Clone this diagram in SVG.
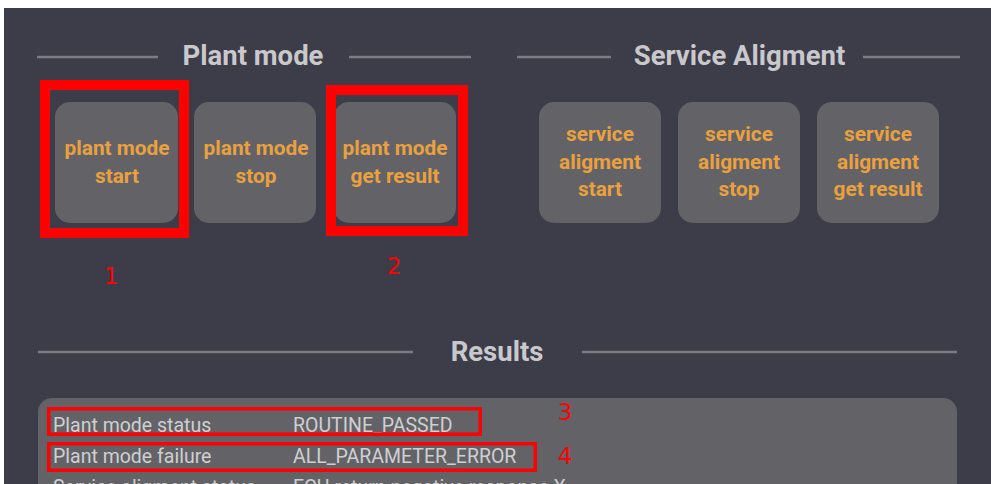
<svg xmlns="http://www.w3.org/2000/svg" width="991" height="484" viewBox="0 0 991 484">
<style>
.bg{fill:#3d3c49}
.btn{fill:#636367}
.bt{font-family:Roboto,"Liberation Sans",sans-serif;font-weight:bold;font-size:20.8px;fill:#e9a140;text-anchor:middle}
.hd{font-family:Roboto,"Liberation Sans",sans-serif;font-weight:bold;font-size:27.5px;fill:#c9c9cc;text-anchor:middle}
.rule{stroke:#7d7c83;stroke-width:2.5}
.tx{font-family:Roboto,"Liberation Sans",sans-serif;font-size:19.5px;fill:#cfcfd2}
.hl{fill:none;stroke:#ff0000}
.num{font-family:"DejaVu Sans",sans-serif;font-size:23px;fill:#ff0000;text-anchor:middle}
</style>
<rect width="991" height="484" fill="#ffffff"/>
<rect class="bg" x="4" y="8" width="987" height="476"/>
<g id="headings">
<line class="rule" x1="37" y1="57" x2="158" y2="57"/>
<line class="rule" x1="349" y1="57" x2="471" y2="57"/>
<text class="hd" x="253" y="65">Plant mode</text>
<line class="rule" x1="517" y1="57" x2="611" y2="57"/>
<line class="rule" x1="863" y1="57" x2="960" y2="57"/>
<text class="hd" x="739.5" y="65">Service Aligment</text>
<line class="rule" x1="38" y1="352" x2="413" y2="352"/>
<line class="rule" x1="582" y1="352" x2="957" y2="352"/>
<text class="hd" x="497" y="361">Results</text>
</g>
<g id="btn-plant-start"><rect class="btn" x="55" y="102" width="123" height="121" rx="15"/><text class="bt" x="117" y="155">plant mode</text><text class="bt" x="117" y="183">start</text></g>
<g id="btn-plant-stop"><rect class="btn" x="194" y="102" width="122" height="121" rx="15"/><text class="bt" x="256" y="155">plant mode</text><text class="bt" x="256" y="183">stop</text></g>
<g id="btn-plant-result"><rect class="btn" x="334" y="102" width="122" height="121" rx="15"/><text class="bt" x="395" y="155">plant mode</text><text class="bt" x="395" y="183">get result</text></g>
<g id="btn-sa-start"><rect class="btn" x="539" y="102" width="122" height="121" rx="15"/><text class="bt" x="600" y="141">service</text><text class="bt" x="600" y="168.5">aligment</text><text class="bt" x="600" y="196">start</text></g>
<g id="btn-sa-stop"><rect class="btn" x="678" y="102" width="122" height="121" rx="15"/><text class="bt" x="739" y="141">service</text><text class="bt" x="739" y="168.5">aligment</text><text class="bt" x="739" y="196">stop</text></g>
<g id="btn-sa-result"><rect class="btn" x="817" y="102" width="122" height="121" rx="15"/><text class="bt" x="878" y="141">service</text><text class="bt" x="878" y="168.5">aligment</text><text class="bt" x="878" y="196">get result</text></g>
<g id="results-panel">
<rect class="btn" x="38" y="398" width="919" height="110" rx="14"/>
<text class="tx" x="53" y="432">Plant mode status</text>
<text class="tx" x="293" y="432">ROUTINE_PASSED</text>
<text class="tx" x="53" y="463">Plant mode failure</text>
<text class="tx" x="293" y="463">ALL_PARAMETER_ERROR</text>
<text class="tx" x="53" y="494">Service aligment status</text>
<text class="tx" x="293" y="494">ECU return negative response X</text>
</g>
<g id="annotations">
<rect class="hl" x="45" y="85" width="139" height="148" stroke-width="10"/>
<rect class="hl" x="331" y="90" width="132" height="141" stroke-width="10"/>
<rect class="hl" x="48.75" y="408.75" width="431.5" height="25.5" stroke-width="3.5"/>
<rect class="hl" x="48.75" y="443.75" width="486.5" height="26.5" stroke-width="3.5"/>
<text class="num" x="111" y="284">1</text>
<text class="num" x="394" y="274">2</text>
<text class="num" x="565" y="420">3</text>
<text class="num" x="565" y="464">4</text>
</g>
</svg>
